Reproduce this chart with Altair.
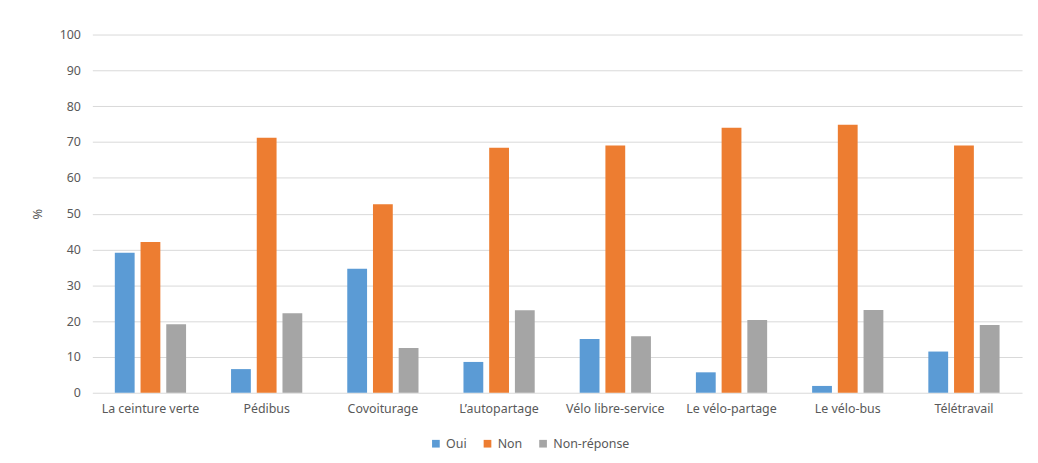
import altair as alt
import pandas as pd

categories = ["La ceinture verte", "Pédibus", "Covoiturage", "L\u2019autopartage",
              "Vélo libre-service", "Le vélo-partage", "Le vélo-bus", "Télétravail"]
series = ["Oui", "Non", "Non-réponse"]
oui = [39.1, 6.6, 34.6, 8.6, 15.0, 5.7, 1.9, 11.5]
non = [42.1, 71.2, 52.6, 68.4, 69.0, 74.0, 74.8, 69.0]
nonrep = [19.1, 22.2, 12.5, 23.0, 15.8, 20.3, 23.1, 18.9]
colors = ["#5B9BD5", "#ED7D31", "#A5A5A5"]

rows = []
for i, c in enumerate(categories):
    for s, vals in zip(series, [oui, non, nonrep]):
        rows.append({"cat": c, "serie": s, "val": vals[i]})
df = pd.DataFrame(rows)

FONT = "Noto Sans"
W, H = 937, 361

bars = alt.Chart(df).mark_bar().encode(
    x=alt.X("cat:N", sort=categories, title=None,
            scale=alt.Scale(paddingInner=0.387, paddingOuter=0.1935),
            axis=alt.Axis(labelAngle=0, labelPadding=10, ticks=False, domain=False, grid=False,
                          labelColor="#595959", labelFontSize=12.5, labelFont=FONT)),
    xOffset=alt.XOffset("serie:N", sort=series,
                        scale=alt.Scale(paddingInner=0.23, paddingOuter=0)),
    y=alt.Y("val:Q", title="%",
            scale=alt.Scale(domain=[0, 100], nice=False),
            axis=alt.Axis(values=list(range(0, 101, 10)), ticks=False, domain=False,
                          gridColor="#D9D9D9", labelColor="#595959", labelFontSize=12.5,
                          labelFont=FONT, labelPadding=12,
                          titleColor="#595959", titleFontSize=13, titleFont=FONT,
                          titleFontWeight="normal", titleX=-48, titleY=H / 2)),
    color=alt.Color("serie:N", sort=series,
                    scale=alt.Scale(domain=series, range=colors),
                    legend=alt.Legend(title=None, orient="none", direction="horizontal",
                                      legendX=340, legendY=406, symbolType="square",
                                      symbolSize=60, symbolStrokeWidth=0,
                                      labelColor="#595959", labelFontSize=12.5,
                                      labelFont=FONT, columnPadding=14)),
)

chart = bars.properties(
    width=W, height=H,
    autosize=alt.AutoSizeParams(type="none"),
    padding={"left": 85, "top": 25, "right": 8, "bottom": 62},
).configure(background="white").configure_view(strokeWidth=0, stroke="transparent")

chart.save("out.html", embed_options={"renderer": "svg", "actions": False})
